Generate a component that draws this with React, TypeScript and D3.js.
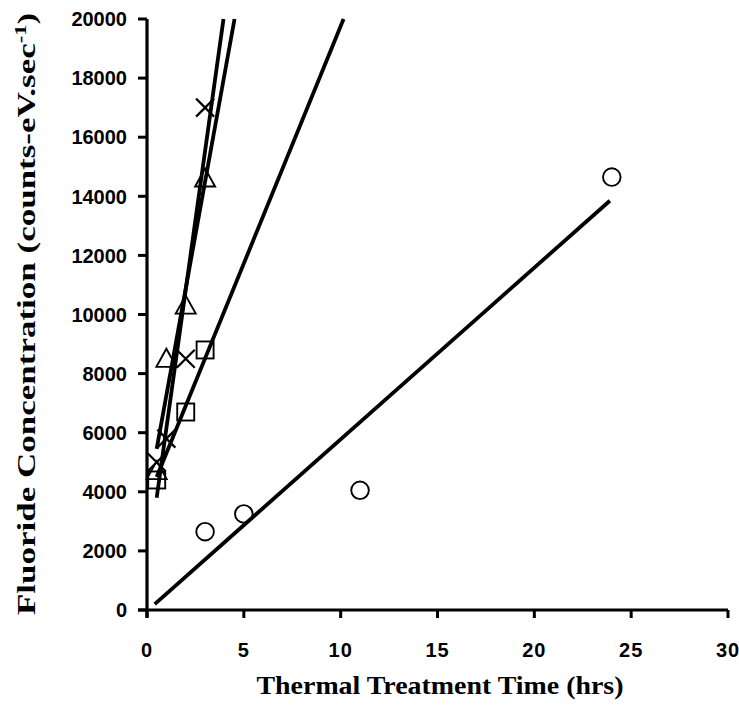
import React from "react";
import * as d3 from "d3";

const xTicks = [0, 5, 10, 15, 20, 25, 30];
const yTicks = [0, 2000, 4000, 6000, 8000, 10000, 12000, 14000, 16000, 18000, 20000];

const circleX = [3, 5, 11, 24];
const circleY = [2650, 3250, 4050, 14650];
const squareX = [0.5, 2, 3];
const squareY = [4400, 6700, 8800];
const triangleX = [0.5, 1, 2, 3];
const triangleY = [4700, 8500, 10300, 14600];
const crossX = [0.5, 1, 2, 3];
const crossY = [5000, 5800, 8500, 17000];

// trend lines (start/end)
const circleFitX = [0.4, 23.9];
const circleFitY = [200, 13850];
const squareFitX = [0.5, 10.15];
const squareFitY = [4500, 20000];
const triangleFitX = [0.5, 4.52];
const triangleFitY = [5450, 20000];
const crossFitX = [0.5, 3.95];
const crossFitY = [3800, 20000];

const W = 739;
const H = 705;

export default function App() {
  const x = d3.scaleLinear().domain([0, 30]).range([147, 728]);
  const y = d3.scaleLinear().domain([0, 20000]).range([610, 19]);
  const line = d3
    .line<[number, number]>()
    .x((d) => x(d[0]))
    .y((d) => y(d[1]));
  const fits = [
    [circleFitX, circleFitY],
    [squareFitX, squareFitY],
    [triangleFitX, triangleFitY],
    [crossFitX, crossFitY],
  ];
  const tickFont = "'Liberation Sans', Arial, sans-serif";
  const titleFont = "'Liberation Serif', 'Times New Roman', serif";
  const ms = 8.5;
  return (
    <svg
      width={W}
      height={H}
      style={{ position: "absolute", left: 0, top: 0, background: "#fff" }}
    >
      <rect width={W} height={H} fill="#fff" />
      {/* trend lines */}
      {fits.map(([fx, fy], i) => (
        <path
          key={i}
          d={line(fx.map((v, j) => [v, fy[j]] as [number, number])) || ""}
          stroke="#000"
          strokeWidth={3.8}
          fill="none"
          strokeLinecap="butt"
        />
      ))}
      {/* circles */}
      {circleX.map((v, i) => (
        <circle
          key={"c" + i}
          cx={x(v)}
          cy={y(circleY[i])}
          r={8.8}
          fill="none"
          stroke="#000"
          strokeWidth={1.9}
        />
      ))}
      {/* squares */}
      {squareX.map((v, i) => (
        <rect
          key={"s" + i}
          x={x(v) - ms}
          y={y(squareY[i]) - ms}
          width={ms * 2}
          height={ms * 2}
          fill="none"
          stroke="#000"
          strokeWidth={1.9}
        />
      ))}
      {/* triangles */}
      {triangleX.map((v, i) => {
        const cx = x(v);
        const cy = y(triangleY[i]);
        return (
          <path
            key={"t" + i}
            d={`M${cx},${cy - 10}L${cx + 10},${cy + 8}L${cx - 10},${cy + 8}Z`}
            fill="none"
            stroke="#000"
            strokeWidth={1.9}
          />
        );
      })}
      {/* crosses */}
      {crossX.map((v, i) => {
        const cx = x(v);
        const cy = y(crossY[i]);
        const s = 9;
        return (
          <path
            key={"x" + i}
            d={`M${cx - s},${cy - s}L${cx + s},${cy + s}M${cx - s},${cy + s}L${cx + s},${cy - s}`}
            stroke="#000"
            strokeWidth={2.2}
            fill="none"
          />
        );
      })}
      {/* axes */}
      <line x1={x(0)} x2={x(0)} y1={y(20000)} y2={y(0) + 8} stroke="#000" strokeWidth={3.2} />
      <line x1={x(0) - 9} x2={x(30)} y1={y(0)} y2={y(0)} stroke="#000" strokeWidth={3.2} />
      {yTicks.map((t) => (
        <g key={"yt" + t}>
          <line x1={x(0) - 9} x2={x(0)} y1={y(t)} y2={y(t)} stroke="#000" strokeWidth={3} />
          <text
            x={127}
            y={y(t)}
            dy="0.36em"
            textAnchor="end"
            fontFamily={tickFont}
            fontWeight="bold"
            fontSize={20}
          >
            {t}
          </text>
        </g>
      ))}
      {xTicks.map((t) => (
        <g key={"xt" + t}>
          <line x1={x(t)} x2={x(t)} y1={y(0)} y2={y(0) + 8} stroke="#000" strokeWidth={3} />
          <text
            x={x(t)}
            y={657}
            textAnchor="middle"
            fontFamily={tickFont}
            fontWeight="bold"
            fontSize={20}
            letterSpacing={1}
          >
            {t}
          </text>
        </g>
      ))}
      <text
        x={440}
        y={694}
        textAnchor="middle"
        fontFamily={titleFont}
        fontWeight="bold"
        fontSize={25}
        textLength={367}
        lengthAdjust="spacingAndGlyphs"
      >
        Thermal Treatment Time (hrs)
      </text>
      <text
        transform={`translate(35,314) rotate(-90) scale(1.4,1)`}
        textAnchor="middle"
        fontFamily={titleFont}
        fontWeight="bold"
        fontSize={25}
      >
        Fluoride Concentration (counts-eV.sec
        <tspan dy={-9} fontSize={16}>-1</tspan>
        <tspan dy={9}>)</tspan>
      </text>
    </svg>
  );
}
